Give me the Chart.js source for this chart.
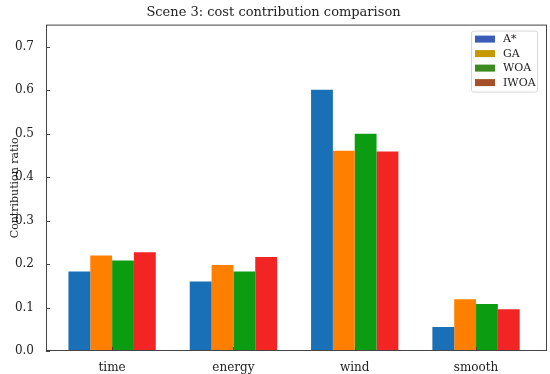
<!DOCTYPE html>
<html>
<head>
<meta charset="utf-8">
<script src="https://cdn.jsdelivr.net/npm/chart.js@4/dist/chart.umd.min.js"></script>
<style>
  html, body { margin: 0; padding: 0; background: #fff; }
  #wrap { width: 550px; height: 374px; }
</style>
</head>
<body>
<div id="wrap"><canvas id="costChart" width="550" height="374"></canvas></div>
<script>
// values
const categories = ['time', 'energy', 'wind', 'smooth'];
const astarVals = [0.183, 0.160, 0.601, 0.055];
const gaVals = [0.220, 0.198, 0.461, 0.119];
const woaVals = [0.208, 0.183, 0.500, 0.108];
const iwoaVals = [0.227, 0.216, 0.459, 0.096];
const yTicks = [0, 0.1, 0.2, 0.3, 0.4, 0.5, 0.6, 0.7];

const serif = "'DejaVu Serif', serif";
// legend swatches look darker than the bars in the picture
const legendColors = ['#3b5cb8', '#c49a00', '#3c8a22', '#a6502a'];

function toPoints(vals) {
    return vals.map((v, i) => ({x: i, y: v}));
}

// frame around the plot plus inward ticks, matplotlib style
const framePlugin = {
    id: 'frame',
    afterDraw(chart) {
        const c = chart.ctx, a = chart.chartArea;
        const xs = chart.scales.x, ys = chart.scales.y;
        c.save();
        c.strokeStyle = '#444';
        c.lineWidth = 1;
        c.strokeRect(a.left + 0.5, a.top + 0.5, a.right - a.left - 1, a.bottom - a.top - 1);
        c.beginPath();
        yTicks.forEach(t => {
            const y = Math.round(ys.getPixelForValue(t)) + 0.5;
            c.moveTo(a.left, y); c.lineTo(a.left + 4, y);
        });
        categories.forEach((_, i) => {
            const x = Math.round(xs.getPixelForValue(i)) + 0.5;
            c.moveTo(x, a.bottom); c.lineTo(x, a.bottom - 4);
        });
        c.stroke();
        c.restore();
    }
};

// legend box in the upper right corner of the plot
const legendPlugin = {
    id: 'boxLegend',
    afterDraw(chart) {
        const c = chart.ctx, a = chart.chartArea;
        const ds = chart.data.datasets;
        const bx = a.right - 76, by = a.top + 6, bw = 66, bh = 61;
        c.save();
        c.fillStyle = 'rgba(255,255,255,0.9)';
        c.strokeStyle = '#d8d8d8';
        c.lineWidth = 1;
        c.beginPath();
        c.roundRect(bx + 0.5, by + 0.5, bw, bh, 2);
        c.fill(); c.stroke();
        c.font = '11px ' + serif;
        c.textBaseline = 'middle';
        ds.forEach((d, i) => {
            const cy = by + 8.5 + i * 14.5;
            c.fillStyle = legendColors[i];
            c.fillRect(bx + 4, cy - 3.5, 20, 7);
            c.fillStyle = '#222';
            c.fillText(d.label, bx + 32, cy + 0.5);
        });
        c.restore();
    }
};

new Chart(document.getElementById('costChart'), {
    type: 'bar',
    data: {
        datasets: [
            {label: 'A*', data: toPoints(astarVals), backgroundColor: '#1a70b6'},
            {label: 'GA', data: toPoints(gaVals), backgroundColor: '#ff8000'},
            {label: 'WOA', data: toPoints(woaVals), backgroundColor: '#0c9c12'},
            {label: 'IWOA', data: toPoints(iwoaVals), backgroundColor: '#f22424'}
        ]
    },
    options: {
        responsive: false,
        animation: false,
        layout: {padding: {left: 0, right: 3, top: 0, bottom: 0}},
        datasets: {bar: {categoryPercentage: 0.72, barPercentage: 1.0, borderWidth: 0}},
        scales: {
            x: {
                type: 'linear',
                offset: false,
                min: -0.545,
                max: 3.585,
                grid: {display: false},
                border: {display: false},
                afterFit: s => { s.height = 23; },
                afterBuildTicks: s => { s.ticks = categories.map((_, i) => ({value: i})); },
                ticks: {
                    padding: 2,
                    color: '#222',
                    font: {family: serif, size: 12},
                    callback: v => categories[v]
                }
            },
            y: {
                min: 0,
                max: 0.751,
                grid: {display: false},
                border: {display: false},
                afterFit: s => { s.width = 46; },
                afterBuildTicks: s => { s.ticks = yTicks.map(v => ({value: v})); },
                ticks: {
                    padding: 4,
                    color: '#222',
                    font: {family: serif, size: 12},
                    callback: v => v.toFixed(1)
                },
                title: {
                    display: true,
                    text: 'Contribution ratio',
                    color: '#222',
                    font: {family: serif, size: 11},
                    padding: {top: 9, bottom: 0}
                }
            }
        },
        plugins: {
            legend: {display: false},
            tooltip: {enabled: false},
            title: {
                display: true,
                text: 'Scene 3: cost contribution comparison',
                color: '#222',
                font: {family: serif, size: 13, weight: 'normal'},
                padding: {top: 5, bottom: 4}
            }
        }
    },
    plugins: [framePlugin, legendPlugin]
});
</script>
</body>
</html>
